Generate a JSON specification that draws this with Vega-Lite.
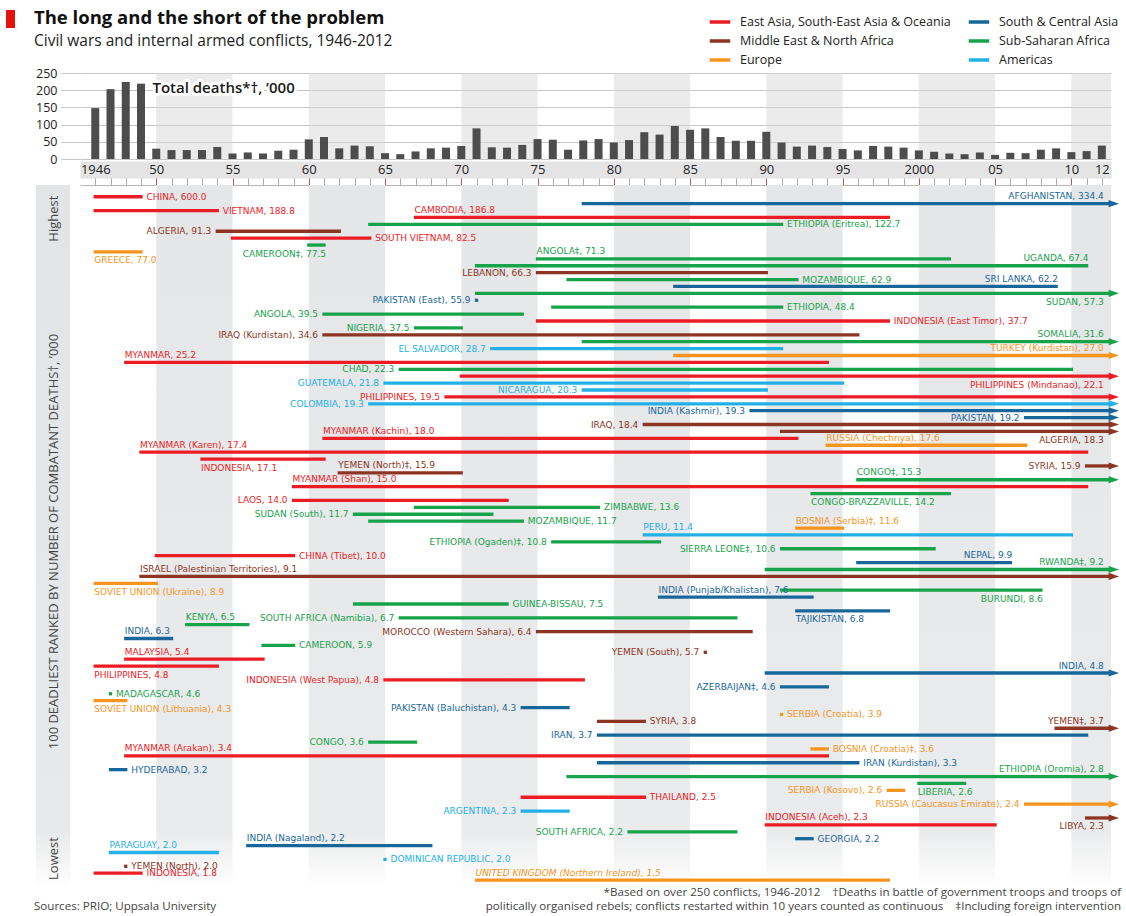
{
  "$schema": "https://vega.github.io/schema/vega-lite/v6.json",
  "background": "white",
  "padding": {"left": 5, "top": 9, "right": 6, "bottom": 4},
  "bounds": "flush",
  "spacing": 26,
  "title": {
    "text": "The long and the short of the problem",
    "subtitle": "Civil wars and internal armed conflicts, 1946-2012",
    "anchor": "start", "frame": "bounds", "dx": 28, "offset": -39,
    "font": "Open Sans", "fontSize": 18.5, "fontWeight": "bold", "color": "#111111",
    "subtitleFont": "Open Sans", "subtitleFontSize": 15.5, "subtitleColor": "#222222", "subtitlePadding": 6
  },
  "config": {"view": {"stroke": null}, "font": "Open Sans", "axis": {"labelOverlap": false}},
  "datasets": {
    "bands": [
      {"b0": 1950, "b1": 1955}, {"b0": 1960, "b1": 1965}, {"b0": 1970, "b1": 1975},
      {"b0": 1980, "b1": 1985}, {"b0": 1990, "b1": 1995}, {"b0": 2000, "b1": 2005},
      {"b0": 2010, "b1": 2012.6}
    ],
    "bars": [
      {"year": 1946, "deaths": 148}, {"year": 1947, "deaths": 203}, {"year": 1948, "deaths": 224}, {"year": 1949, "deaths": 219},
      {"year": 1950, "deaths": 30}, {"year": 1951, "deaths": 26}, {"year": 1952, "deaths": 26}, {"year": 1953, "deaths": 26},
      {"year": 1954, "deaths": 35}, {"year": 1955, "deaths": 16}, {"year": 1956, "deaths": 19}, {"year": 1957, "deaths": 16},
      {"year": 1958, "deaths": 24}, {"year": 1959, "deaths": 27}, {"year": 1960, "deaths": 57}, {"year": 1961, "deaths": 64},
      {"year": 1962, "deaths": 31}, {"year": 1963, "deaths": 39}, {"year": 1964, "deaths": 37}, {"year": 1965, "deaths": 17},
      {"year": 1966, "deaths": 14}, {"year": 1967, "deaths": 22}, {"year": 1968, "deaths": 31}, {"year": 1969, "deaths": 33},
      {"year": 1970, "deaths": 38}, {"year": 1971, "deaths": 89}, {"year": 1972, "deaths": 34}, {"year": 1973, "deaths": 33},
      {"year": 1974, "deaths": 41}, {"year": 1975, "deaths": 58}, {"year": 1976, "deaths": 56}, {"year": 1977, "deaths": 27},
      {"year": 1978, "deaths": 54}, {"year": 1979, "deaths": 58}, {"year": 1980, "deaths": 48}, {"year": 1981, "deaths": 55},
      {"year": 1982, "deaths": 78}, {"year": 1983, "deaths": 71}, {"year": 1984, "deaths": 96}, {"year": 1985, "deaths": 85},
      {"year": 1986, "deaths": 89}, {"year": 1987, "deaths": 64}, {"year": 1988, "deaths": 53}, {"year": 1989, "deaths": 53},
      {"year": 1990, "deaths": 79}, {"year": 1991, "deaths": 48}, {"year": 1992, "deaths": 36}, {"year": 1993, "deaths": 39},
      {"year": 1994, "deaths": 35}, {"year": 1995, "deaths": 29}, {"year": 1996, "deaths": 25}, {"year": 1997, "deaths": 38},
      {"year": 1998, "deaths": 36}, {"year": 1999, "deaths": 33}, {"year": 2000, "deaths": 25}, {"year": 2001, "deaths": 21},
      {"year": 2002, "deaths": 16}, {"year": 2003, "deaths": 14}, {"year": 2004, "deaths": 19}, {"year": 2005, "deaths": 12},
      {"year": 2006, "deaths": 18}, {"year": 2007, "deaths": 17}, {"year": 2008, "deaths": 27}, {"year": 2009, "deaths": 31},
      {"year": 2010, "deaths": 20}, {"year": 2011, "deaths": 23}, {"year": 2012, "deaths": 39}
    ],
    "conflicts": [
      {"rank": 1, "label": "CHINA, 600.0", "deaths": 600.0, "start": 1946, "end": 1949, "region": "East Asia, South-East Asia & Oceania", "ongoing": 0, "pos": "R"},
      {"rank": 2, "label": "AFGHANISTAN, 334.4", "deaths": 334.4, "start": 1978, "end": 2012, "region": "South & Central Asia", "ongoing": 1, "pos": "AE"},
      {"rank": 3, "label": "VIETNAM, 188.8", "deaths": 188.8, "start": 1946, "end": 1954, "region": "East Asia, South-East Asia & Oceania", "ongoing": 0, "pos": "R"},
      {"rank": 4, "label": "CAMBODIA, 186.8", "deaths": 186.8, "start": 1967, "end": 1998, "region": "East Asia, South-East Asia & Oceania", "ongoing": 0, "pos": "AS"},
      {"rank": 5, "label": "ETHIOPIA (Eritrea), 122.7", "deaths": 122.7, "start": 1964, "end": 1991, "region": "Sub-Saharan Africa", "ongoing": 0, "pos": "R"},
      {"rank": 6, "label": "ALGERIA, 91.3", "deaths": 91.3, "start": 1954, "end": 1962, "region": "Middle East & North Africa", "ongoing": 0, "pos": "L"},
      {"rank": 7, "label": "SOUTH VIETNAM, 82.5", "deaths": 82.5, "start": 1955, "end": 1964, "region": "East Asia, South-East Asia & Oceania", "ongoing": 0, "pos": "R"},
      {"rank": 8, "label": "CAMEROON‡, 77.5", "deaths": 77.5, "start": 1960, "end": 1961, "region": "Sub-Saharan Africa", "ongoing": 0, "pos": "BE"},
      {"rank": 9, "label": "GREECE, 77.0", "deaths": 77.0, "start": 1946, "end": 1949, "region": "Europe", "ongoing": 0, "pos": "BS"},
      {"rank": 10, "label": "ANGOLA‡, 71.3", "deaths": 71.3, "start": 1975, "end": 2002, "region": "Sub-Saharan Africa", "ongoing": 0, "pos": "AS"},
      {"rank": 11, "label": "UGANDA, 67.4", "deaths": 67.4, "start": 1971, "end": 2011, "region": "Sub-Saharan Africa", "ongoing": 0, "pos": "AE"},
      {"rank": 12, "label": "LEBANON, 66.3", "deaths": 66.3, "start": 1975, "end": 1990, "region": "Middle East & North Africa", "ongoing": 0, "pos": "L"},
      {"rank": 13, "label": "MOZAMBIQUE, 62.9", "deaths": 62.9, "start": 1977, "end": 1992, "region": "Sub-Saharan Africa", "ongoing": 0, "pos": "R"},
      {"rank": 14, "label": "SRI LANKA, 62.2", "deaths": 62.2, "start": 1984, "end": 2009, "region": "South & Central Asia", "ongoing": 0, "pos": "AE"},
      {"rank": 15, "label": "SUDAN, 57.3", "deaths": 57.3, "start": 1971, "end": 2012, "region": "Sub-Saharan Africa", "ongoing": 1, "pos": "BE"},
      {"rank": 16, "label": "PAKISTAN (East), 55.9", "deaths": 55.9, "start": 1971, "end": 1971, "region": "South & Central Asia", "ongoing": 0, "pos": "L"},
      {"rank": 17, "label": "ETHIOPIA, 48.4", "deaths": 48.4, "start": 1976, "end": 1991, "region": "Sub-Saharan Africa", "ongoing": 0, "pos": "R"},
      {"rank": 18, "label": "ANGOLA, 39.5", "deaths": 39.5, "start": 1961, "end": 1974, "region": "Sub-Saharan Africa", "ongoing": 0, "pos": "L"},
      {"rank": 19, "label": "INDONESIA (East Timor), 37.7", "deaths": 37.7, "start": 1975, "end": 1998, "region": "East Asia, South-East Asia & Oceania", "ongoing": 0, "pos": "R"},
      {"rank": 20, "label": "NIGERIA, 37.5", "deaths": 37.5, "start": 1967, "end": 1970, "region": "Sub-Saharan Africa", "ongoing": 0, "pos": "L"},
      {"rank": 21, "label": "IRAQ (Kurdistan), 34.6", "deaths": 34.6, "start": 1961, "end": 1996, "region": "Middle East & North Africa", "ongoing": 0, "pos": "L"},
      {"rank": 22, "label": "SOMALIA, 31.6", "deaths": 31.6, "start": 1978, "end": 2012, "region": "Sub-Saharan Africa", "ongoing": 1, "pos": "AE"},
      {"rank": 23, "label": "EL SALVADOR, 28.7", "deaths": 28.7, "start": 1972, "end": 1991, "region": "Americas", "ongoing": 0, "pos": "L"},
      {"rank": 24, "label": "TURKEY (Kurdistan), 27.0", "deaths": 27.0, "start": 1984, "end": 2012, "region": "Europe", "ongoing": 1, "pos": "AE"},
      {"rank": 25, "label": "MYANMAR, 25.2", "deaths": 25.2, "start": 1948, "end": 1994, "region": "East Asia, South-East Asia & Oceania", "ongoing": 0, "pos": "AS"},
      {"rank": 26, "label": "CHAD, 22.3", "deaths": 22.3, "start": 1966, "end": 2010, "region": "Sub-Saharan Africa", "ongoing": 0, "pos": "L"},
      {"rank": 27, "label": "PHILIPPINES (Mindanao), 22.1", "deaths": 22.1, "start": 1970, "end": 2012, "region": "East Asia, South-East Asia & Oceania", "ongoing": 1, "pos": "BE"},
      {"rank": 28, "label": "GUATEMALA, 21.8", "deaths": 21.8, "start": 1965, "end": 1995, "region": "Americas", "ongoing": 0, "pos": "L"},
      {"rank": 29, "label": "NICARAGUA, 20.3", "deaths": 20.3, "start": 1978, "end": 1990, "region": "Americas", "ongoing": 0, "pos": "L"},
      {"rank": 30, "label": "PHILIPPINES, 19.5", "deaths": 19.5, "start": 1969, "end": 2012, "region": "East Asia, South-East Asia & Oceania", "ongoing": 1, "pos": "L"},
      {"rank": 31, "label": "COLOMBIA, 19.3", "deaths": 19.3, "start": 1964, "end": 2012, "region": "Americas", "ongoing": 1, "pos": "L"},
      {"rank": 32, "label": "INDIA (Kashmir), 19.3", "deaths": 19.3, "start": 1989, "end": 2012, "region": "South & Central Asia", "ongoing": 1, "pos": "L"},
      {"rank": 33, "label": "PAKISTAN, 19.2", "deaths": 19.2, "start": 2007, "end": 2012, "region": "South & Central Asia", "ongoing": 1, "pos": "L"},
      {"rank": 34, "label": "IRAQ, 18.4", "deaths": 18.4, "start": 1982, "end": 2012, "region": "Middle East & North Africa", "ongoing": 1, "pos": "L"},
      {"rank": 35, "label": "ALGERIA, 18.3", "deaths": 18.3, "start": 1991, "end": 2012, "region": "Middle East & North Africa", "ongoing": 1, "pos": "BE"},
      {"rank": 36, "label": "MYANMAR (Kachin), 18.0", "deaths": 18.0, "start": 1961, "end": 1992, "region": "East Asia, South-East Asia & Oceania", "ongoing": 0, "pos": "AS"},
      {"rank": 37, "label": "RUSSIA (Chechnya), 17.6", "deaths": 17.6, "start": 1994, "end": 2007, "region": "Europe", "ongoing": 0, "pos": "AS"},
      {"rank": 38, "label": "MYANMAR (Karen), 17.4", "deaths": 17.4, "start": 1949, "end": 2011, "region": "East Asia, South-East Asia & Oceania", "ongoing": 0, "pos": "AS"},
      {"rank": 39, "label": "INDONESIA, 17.1", "deaths": 17.1, "start": 1953, "end": 1961, "region": "East Asia, South-East Asia & Oceania", "ongoing": 0, "pos": "BS"},
      {"rank": 40, "label": "SYRIA, 15.9", "deaths": 15.9, "start": 2011, "end": 2012, "region": "Middle East & North Africa", "ongoing": 1, "pos": "L"},
      {"rank": 41, "label": "YEMEN (North)‡, 15.9", "deaths": 15.9, "start": 1962, "end": 1970, "region": "Middle East & North Africa", "ongoing": 0, "pos": "AS"},
      {"rank": 42, "label": "CONGO‡, 15.3", "deaths": 15.3, "start": 1996, "end": 2012, "region": "Sub-Saharan Africa", "ongoing": 1, "pos": "AS"},
      {"rank": 43, "label": "MYANMAR (Shan), 15.0", "deaths": 15.0, "start": 1959, "end": 2011, "region": "East Asia, South-East Asia & Oceania", "ongoing": 0, "pos": "AS"},
      {"rank": 44, "label": "CONGO-BRAZZAVILLE, 14.2", "deaths": 14.2, "start": 1993, "end": 2002, "region": "Sub-Saharan Africa", "ongoing": 0, "pos": "BS"},
      {"rank": 45, "label": "LAOS, 14.0", "deaths": 14.0, "start": 1959, "end": 1973, "region": "East Asia, South-East Asia & Oceania", "ongoing": 0, "pos": "L"},
      {"rank": 46, "label": "ZIMBABWE, 13.6", "deaths": 13.6, "start": 1967, "end": 1979, "region": "Sub-Saharan Africa", "ongoing": 0, "pos": "R"},
      {"rank": 47, "label": "SUDAN (South), 11.7", "deaths": 11.7, "start": 1963, "end": 1972, "region": "Sub-Saharan Africa", "ongoing": 0, "pos": "L"},
      {"rank": 48, "label": "MOZAMBIQUE, 11.7", "deaths": 11.7, "start": 1964, "end": 1974, "region": "Sub-Saharan Africa", "ongoing": 0, "pos": "R"},
      {"rank": 49, "label": "BOSNIA (Serbia)‡, 11.6", "deaths": 11.6, "start": 1992, "end": 1995, "region": "Europe", "ongoing": 0, "pos": "AS"},
      {"rank": 50, "label": "PERU, 11.4", "deaths": 11.4, "start": 1982, "end": 2010, "region": "Americas", "ongoing": 0, "pos": "AS"},
      {"rank": 51, "label": "ETHIOPIA (Ogaden)‡, 10.8", "deaths": 10.8, "start": 1976, "end": 1983, "region": "Sub-Saharan Africa", "ongoing": 0, "pos": "L"},
      {"rank": 52, "label": "SIERRA LEONE‡, 10.6", "deaths": 10.6, "start": 1991, "end": 2001, "region": "Sub-Saharan Africa", "ongoing": 0, "pos": "L"},
      {"rank": 53, "label": "CHINA (Tibet), 10.0", "deaths": 10.0, "start": 1950, "end": 1959, "region": "East Asia, South-East Asia & Oceania", "ongoing": 0, "pos": "R"},
      {"rank": 54, "label": "NEPAL, 9.9", "deaths": 9.9, "start": 1996, "end": 2006, "region": "South & Central Asia", "ongoing": 0, "pos": "AE"},
      {"rank": 55, "label": "RWANDA‡, 9.2", "deaths": 9.2, "start": 1990, "end": 2012, "region": "Sub-Saharan Africa", "ongoing": 1, "pos": "AE"},
      {"rank": 56, "label": "ISRAEL (Palestinian Territories), 9.1", "deaths": 9.1, "start": 1949, "end": 2012, "region": "Middle East & North Africa", "ongoing": 1, "pos": "AS"},
      {"rank": 57, "label": "SOVIET UNION (Ukraine), 8.9", "deaths": 8.9, "start": 1946, "end": 1950, "region": "Europe", "ongoing": 0, "pos": "BS"},
      {"rank": 58, "label": "BURUNDI, 8.6", "deaths": 8.6, "start": 1991, "end": 2008, "region": "Sub-Saharan Africa", "ongoing": 0, "pos": "BE"},
      {"rank": 59, "label": "INDIA (Punjab/Khalistan), 7.6", "deaths": 7.6, "start": 1983, "end": 1993, "region": "South & Central Asia", "ongoing": 0, "pos": "AS"},
      {"rank": 60, "label": "GUINEA-BISSAU, 7.5", "deaths": 7.5, "start": 1963, "end": 1973, "region": "Sub-Saharan Africa", "ongoing": 0, "pos": "R"},
      {"rank": 61, "label": "TAJIKISTAN, 6.8", "deaths": 6.8, "start": 1992, "end": 1998, "region": "South & Central Asia", "ongoing": 0, "pos": "BS"},
      {"rank": 62, "label": "SOUTH AFRICA (Namibia), 6.7", "deaths": 6.7, "start": 1966, "end": 1988, "region": "Sub-Saharan Africa", "ongoing": 0, "pos": "L"},
      {"rank": 63, "label": "KENYA, 6.5", "deaths": 6.5, "start": 1952, "end": 1956, "region": "Sub-Saharan Africa", "ongoing": 0, "pos": "AS"},
      {"rank": 64, "label": "MOROCCO (Western Sahara), 6.4", "deaths": 6.4, "start": 1975, "end": 1989, "region": "Middle East & North Africa", "ongoing": 0, "pos": "L"},
      {"rank": 65, "label": "INDIA, 6.3", "deaths": 6.3, "start": 1948, "end": 1951, "region": "South & Central Asia", "ongoing": 0, "pos": "AS"},
      {"rank": 66, "label": "CAMEROON, 5.9", "deaths": 5.9, "start": 1957, "end": 1959, "region": "Sub-Saharan Africa", "ongoing": 0, "pos": "R"},
      {"rank": 67, "label": "YEMEN (South), 5.7", "deaths": 5.7, "start": 1986, "end": 1986, "region": "Middle East & North Africa", "ongoing": 0, "pos": "L"},
      {"rank": 68, "label": "MALAYSIA, 5.4", "deaths": 5.4, "start": 1948, "end": 1957, "region": "East Asia, South-East Asia & Oceania", "ongoing": 0, "pos": "AS"},
      {"rank": 69, "label": "PHILIPPINES, 4.8", "deaths": 4.8, "start": 1946, "end": 1954, "region": "East Asia, South-East Asia & Oceania", "ongoing": 0, "pos": "BS"},
      {"rank": 70, "label": "INDIA, 4.8", "deaths": 4.8, "start": 1990, "end": 2012, "region": "South & Central Asia", "ongoing": 1, "pos": "AE"},
      {"rank": 71, "label": "INDONESIA (West Papua), 4.8", "deaths": 4.8, "start": 1965, "end": 1978, "region": "East Asia, South-East Asia & Oceania", "ongoing": 0, "pos": "L"},
      {"rank": 72, "label": "AZERBAIJAN‡, 4.6", "deaths": 4.6, "start": 1991, "end": 1994, "region": "South & Central Asia", "ongoing": 0, "pos": "L"},
      {"rank": 73, "label": "MADAGASCAR, 4.6", "deaths": 4.6, "start": 1947, "end": 1947, "region": "Sub-Saharan Africa", "ongoing": 0, "pos": "R"},
      {"rank": 74, "label": "SOVIET UNION (Lithuania), 4.3", "deaths": 4.3, "start": 1946, "end": 1948, "region": "Europe", "ongoing": 0, "pos": "BS"},
      {"rank": 75, "label": "PAKISTAN (Baluchistan), 4.3", "deaths": 4.3, "start": 1974, "end": 1977, "region": "South & Central Asia", "ongoing": 0, "pos": "L"},
      {"rank": 76, "label": "SERBIA (Croatia), 3.9", "deaths": 3.9, "start": 1991, "end": 1991, "region": "Europe", "ongoing": 0, "pos": "R"},
      {"rank": 77, "label": "SYRIA, 3.8", "deaths": 3.8, "start": 1979, "end": 1982, "region": "Middle East & North Africa", "ongoing": 0, "pos": "R"},
      {"rank": 78, "label": "YEMEN‡, 3.7", "deaths": 3.7, "start": 2009, "end": 2012, "region": "Middle East & North Africa", "ongoing": 1, "pos": "AE"},
      {"rank": 79, "label": "IRAN, 3.7", "deaths": 3.7, "start": 1979, "end": 2011, "region": "South & Central Asia", "ongoing": 0, "pos": "L"},
      {"rank": 80, "label": "CONGO, 3.6", "deaths": 3.6, "start": 1964, "end": 1967, "region": "Sub-Saharan Africa", "ongoing": 0, "pos": "L"},
      {"rank": 81, "label": "BOSNIA (Croatia)‡, 3.6", "deaths": 3.6, "start": 1993, "end": 1994, "region": "Europe", "ongoing": 0, "pos": "R"},
      {"rank": 82, "label": "MYANMAR (Arakan), 3.4", "deaths": 3.4, "start": 1948, "end": 1994, "region": "East Asia, South-East Asia & Oceania", "ongoing": 0, "pos": "AS"},
      {"rank": 83, "label": "IRAN (Kurdistan), 3.3", "deaths": 3.3, "start": 1979, "end": 1996, "region": "South & Central Asia", "ongoing": 0, "pos": "R"},
      {"rank": 84, "label": "HYDERABAD, 3.2", "deaths": 3.2, "start": 1947, "end": 1948, "region": "South & Central Asia", "ongoing": 0, "pos": "R"},
      {"rank": 85, "label": "ETHIOPIA (Oromia), 2.8", "deaths": 2.8, "start": 1977, "end": 2012, "region": "Sub-Saharan Africa", "ongoing": 1, "pos": "AE"},
      {"rank": 86, "label": "LIBERIA, 2.6", "deaths": 2.6, "start": 2000, "end": 2003, "region": "Sub-Saharan Africa", "ongoing": 0, "pos": "BS"},
      {"rank": 87, "label": "SERBIA (Kosovo), 2.6", "deaths": 2.6, "start": 1998, "end": 1999, "region": "Europe", "ongoing": 0, "pos": "L"},
      {"rank": 88, "label": "THAILAND, 2.5", "deaths": 2.5, "start": 1974, "end": 1982, "region": "East Asia, South-East Asia & Oceania", "ongoing": 0, "pos": "R"},
      {"rank": 89, "label": "RUSSIA (Caucasus Emirate), 2.4", "deaths": 2.4, "start": 2007, "end": 2012, "region": "Europe", "ongoing": 1, "pos": "L"},
      {"rank": 90, "label": "ARGENTINA, 2.3", "deaths": 2.3, "start": 1974, "end": 1977, "region": "Americas", "ongoing": 0, "pos": "L"},
      {"rank": 91, "label": "LIBYA, 2.3", "deaths": 2.3, "start": 2011, "end": 2012, "region": "Middle East & North Africa", "ongoing": 1, "pos": "BE"},
      {"rank": 92, "label": "INDONESIA (Aceh), 2.3", "deaths": 2.3, "start": 1990, "end": 2005, "region": "East Asia, South-East Asia & Oceania", "ongoing": 0, "pos": "AS"},
      {"rank": 93, "label": "SOUTH AFRICA, 2.2", "deaths": 2.2, "start": 1981, "end": 1988, "region": "Sub-Saharan Africa", "ongoing": 0, "pos": "L"},
      {"rank": 94, "label": "GEORGIA, 2.2", "deaths": 2.2, "start": 1992, "end": 1993, "region": "South & Central Asia", "ongoing": 0, "pos": "R"},
      {"rank": 95, "label": "INDIA (Nagaland), 2.2", "deaths": 2.2, "start": 1956, "end": 1968, "region": "South & Central Asia", "ongoing": 0, "pos": "AS"},
      {"rank": 96, "label": "PARAGUAY, 2.0", "deaths": 2.0, "start": 1947, "end": 1954, "region": "Americas", "ongoing": 0, "pos": "AS"},
      {"rank": 97, "label": "DOMINICAN REPUBLIC, 2.0", "deaths": 2.0, "start": 1965, "end": 1965, "region": "Americas", "ongoing": 0, "pos": "R"},
      {"rank": 98, "label": "YEMEN (North), 2.0", "deaths": 2.0, "start": 1948, "end": 1948, "region": "Middle East & North Africa", "ongoing": 0, "pos": "R"},
      {"rank": 99, "label": "INDONESIA, 1.8", "deaths": 1.8, "start": 1946, "end": 1949, "region": "East Asia, South-East Asia & Oceania", "ongoing": 0, "pos": "R"},
      {"rank": 100, "label": "UNITED KINGDOM (Northern Ireland), 1.5", "deaths": 1.5, "start": 1971, "end": 1998, "region": "Europe", "ongoing": 0, "pos": "AI"}
    ]
  },
  "vconcat": [
    {
      "width": 1031,
      "height": 86,
      "layer": [
        {
          "data": {"name": "bands"},
          "mark": {"type": "rect", "color": "#d8d8d8", "opacity": 0.5},
          "encoding": {
            "x": {
              "field": "b0", "type": "quantitative",
              "scale": {"domain": [1945, 2012.6], "nice": false, "zero": false, "padding": 0},
              "axis": {"orient": "bottom", "offset": 10.5, "domain": true, "domainWidth": 17, "domainColor": "#e4e4e4", "labels": false, "ticks": true, "tickSize": 15, "values": [1946,1947,1948,1949,1950,1951,1952,1953,1954,1955,1956,1957,1958,1959,1960,1961,1962,1963,1964,1965,1966,1967,1968,1969,1970,1971,1972,1973,1974,1975,1976,1977,1978,1979,1980,1981,1982,1983,1984,1985,1986,1987,1988,1989,1990,1991,1992,1993,1994,1995,1996,1997,1998,1999,2000,2001,2002,2003,2004,2005,2006,2007,2008,2009,2010,2011,2012], "tickColor": {"condition": {"test": "datum.value % 5 == 0", "value": "#c8524a"}, "value": "#b9a7a7"}, "grid": false, "title": null}
            },
            "x2": {"field": "b1"}
          }
        },
        {
          "data": {"name": "bars"},
          "mark": {"type": "bar", "width": 8, "color": "#4d4d4d"},
          "encoding": {
            "x": {
              "field": "year", "type": "quantitative",
              "axis": {"orient": "bottom", "offset": 10.5, "domain": true, "domainWidth": 17, "domainColor": "#e4e4e4", "labels": false, "ticks": true, "tickSize": 15, "values": [1946,1947,1948,1949,1950,1951,1952,1953,1954,1955,1956,1957,1958,1959,1960,1961,1962,1963,1964,1965,1966,1967,1968,1969,1970,1971,1972,1973,1974,1975,1976,1977,1978,1979,1980,1981,1982,1983,1984,1985,1986,1987,1988,1989,1990,1991,1992,1993,1994,1995,1996,1997,1998,1999,2000,2001,2002,2003,2004,2005,2006,2007,2008,2009,2010,2011,2012], "tickColor": {"condition": {"test": "datum.value % 5 == 0", "value": "#c8524a"}, "value": "#b9a7a7"}, "grid": false, "title": null}
            },
            "y": {
              "field": "deaths", "type": "quantitative",
              "scale": {"domain": [0, 250], "nice": false},
              "axis": {"values": [0, 50, 100, 150, 200, 250], "grid": true, "gridColor": "#c6c6c6", "domain": false, "ticks": true, "tickSize": 19, "tickColor": "#c6c6c6", "labelPadding": 4, "labelFont": "Open Sans", "labelFontSize": 12.5, "labelColor": "#222222", "labelOverlap": false, "labelFlush": false, "title": null}
            }
          }
        },
        {
          "data": {"values": [{}]},
          "mark": {"type": "text", "text": "Total deaths*†, ’000", "align": "left", "baseline": "middle", "font": "Open Sans", "fontSize": 15, "fontWeight": 600, "fill": "white", "stroke": "white", "strokeWidth": 6, "strokeJoin": "round"},
          "encoding": {
            "x": {
              "datum": 1949.75, "type": "quantitative",
              "axis": {"orient": "bottom", "offset": 10.5, "domain": true, "domainWidth": 17, "domainColor": "#e4e4e4", "labels": false, "ticks": true, "tickSize": 15, "values": [1946,1947,1948,1949,1950,1951,1952,1953,1954,1955,1956,1957,1958,1959,1960,1961,1962,1963,1964,1965,1966,1967,1968,1969,1970,1971,1972,1973,1974,1975,1976,1977,1978,1979,1980,1981,1982,1983,1984,1985,1986,1987,1988,1989,1990,1991,1992,1993,1994,1995,1996,1997,1998,1999,2000,2001,2002,2003,2004,2005,2006,2007,2008,2009,2010,2011,2012], "tickColor": {"condition": {"test": "datum.value % 5 == 0", "value": "#c8524a"}, "value": "#b9a7a7"}, "grid": false, "title": null}
            },
            "y": {
              "datum": 205, "type": "quantitative",
              "axis": {"values": [0, 50, 100, 150, 200, 250], "grid": true, "gridColor": "#c6c6c6", "domain": false, "ticks": true, "tickSize": 19, "tickColor": "#c6c6c6", "labelPadding": 4, "labelFont": "Open Sans", "labelFontSize": 12.5, "labelColor": "#222222", "labelOverlap": false, "labelFlush": false, "title": null}
            }
          }
        },
        {
          "data": {"values": [{}]},
          "mark": {"type": "text", "text": "Total deaths*†, ’000", "align": "left", "baseline": "middle", "font": "Open Sans", "fontSize": 15, "fontWeight": 600, "fill": "#1a1a1a"},
          "encoding": {
            "x": {
              "datum": 1949.75, "type": "quantitative",
              "axis": {"orient": "bottom", "offset": 10.5, "domain": true, "domainWidth": 17, "domainColor": "#e4e4e4", "labels": false, "ticks": true, "tickSize": 15, "values": [1946,1947,1948,1949,1950,1951,1952,1953,1954,1955,1956,1957,1958,1959,1960,1961,1962,1963,1964,1965,1966,1967,1968,1969,1970,1971,1972,1973,1974,1975,1976,1977,1978,1979,1980,1981,1982,1983,1984,1985,1986,1987,1988,1989,1990,1991,1992,1993,1994,1995,1996,1997,1998,1999,2000,2001,2002,2003,2004,2005,2006,2007,2008,2009,2010,2011,2012], "tickColor": {"condition": {"test": "datum.value % 5 == 0", "value": "#c8524a"}, "value": "#b9a7a7"}, "grid": false, "title": null}
            },
            "y": {
              "datum": 205, "type": "quantitative",
              "axis": {"values": [0, 50, 100, 150, 200, 250], "grid": true, "gridColor": "#c6c6c6", "domain": false, "ticks": true, "tickSize": 19, "tickColor": "#c6c6c6", "labelPadding": 4, "labelFont": "Open Sans", "labelFontSize": 12.5, "labelColor": "#222222", "labelOverlap": false, "labelFlush": false, "title": null}
            }
          }
        },
        {
          "data": {"values": [{}]},
          "mark": {"type": "rect", "color": "#e3120b"},
          "encoding": {
            "x": {
              "datum": 1940.148, "type": "quantitative",
              "axis": {"orient": "bottom", "offset": 10.5, "domain": true, "domainWidth": 17, "domainColor": "#e4e4e4", "labels": false, "ticks": true, "tickSize": 15, "values": [1946,1947,1948,1949,1950,1951,1952,1953,1954,1955,1956,1957,1958,1959,1960,1961,1962,1963,1964,1965,1966,1967,1968,1969,1970,1971,1972,1973,1974,1975,1976,1977,1978,1979,1980,1981,1982,1983,1984,1985,1986,1987,1988,1989,1990,1991,1992,1993,1994,1995,1996,1997,1998,1999,2000,2001,2002,2003,2004,2005,2006,2007,2008,2009,2010,2011,2012], "tickColor": {"condition": {"test": "datum.value % 5 == 0", "value": "#c8524a"}, "value": "#b9a7a7"}, "grid": false, "title": null}
            },
            "x2": {"datum": 1940.738},
            "y": {
              "datum": 433.1, "type": "quantitative",
              "axis": {"values": [0, 50, 100, 150, 200, 250], "grid": true, "gridColor": "#c6c6c6", "domain": false, "ticks": true, "tickSize": 19, "tickColor": "#c6c6c6", "labelPadding": 4, "labelFont": "Open Sans", "labelFontSize": 12.5, "labelColor": "#222222", "labelOverlap": false, "labelFlush": false, "title": null}
            },
            "y2": {"datum": 380.8}
          }
        }
      ]
    },
    {
      "width": 1031,
      "height": 702,
      "layer": [
        {
          "data": {"name": "bands"},
          "mark": {
            "type": "rect",
            "color": {"gradient": "linear", "x1": 0, "y1": 0, "x2": 0, "y2": 1,
              "stops": [{"offset": 0, "color": "#e5e6e8"}, {"offset": 0.92, "color": "#eaebec"}, {"offset": 1, "color": "#ffffff"}]}
          },
          "encoding": {
            "x": {
              "field": "b0", "type": "quantitative",
              "scale": {"domain": [1945, 2012.6], "nice": false, "zero": false, "padding": 0},
              "axis": {"orient": "top", "values": [1946,1950,1955,1960,1965,1970,1975,1980,1985,1990,1995,2000,2005,2010,2012], "labelExpr": "datum.value == 1946 || datum.value == 2000 ? '' + datum.value : substring('' + datum.value, 2, 4)", "labels": true, "ticks": false, "tickSize": 0, "labelPadding": 15.5, "labelBaseline": "middle", "labelFont": "Open Sans", "labelFontSize": 13, "labelColor": "#222222", "labelOverlap": false, "labelFlush": false, "domain": true, "domainColor": "#bfb3b3", "grid": false, "title": null}
            },
            "x2": {"field": "b1"}
          }
        },
        {
          "data": {"values": [{}]},
          "mark": {
            "type": "rect",
            "color": {"gradient": "linear", "x1": 0, "y1": 0, "x2": 0, "y2": 1,
              "stops": [{"offset": 0, "color": "#e3e4e6"}, {"offset": 0.92, "color": "#e8e9ea"}, {"offset": 1, "color": "#ffffff"}]}
          },
          "encoding": {
            "x": {
              "datum": 1942.115, "type": "quantitative",
              "axis": {"orient": "top", "values": [1946,1950,1955,1960,1965,1970,1975,1980,1985,1990,1995,2000,2005,2010,2012], "labelExpr": "datum.value == 1946 || datum.value == 2000 ? '' + datum.value : substring('' + datum.value, 2, 4)", "labels": true, "ticks": false, "tickSize": 0, "labelPadding": 15.5, "labelBaseline": "middle", "labelFont": "Open Sans", "labelFontSize": 13, "labelColor": "#222222", "labelOverlap": false, "labelFlush": false, "domain": true, "domainColor": "#bfb3b3", "grid": false, "title": null}
            },
            "x2": {"datum": 1944.344}
          }
        },
        {
          "data": {"name": "conflicts"},
          "transform": [{"filter": "datum.ongoing == 0"}],
          "mark": {"type": "rule", "strokeWidth": 3.3, "strokeCap": "square"},
          "encoding": {
            "x": {
              "field": "start", "type": "quantitative",
              "axis": {"orient": "top", "values": [1946,1950,1955,1960,1965,1970,1975,1980,1985,1990,1995,2000,2005,2010,2012], "labelExpr": "datum.value == 1946 || datum.value == 2000 ? '' + datum.value : substring('' + datum.value, 2, 4)", "labels": true, "ticks": false, "tickSize": 0, "labelPadding": 15.5, "labelBaseline": "middle", "labelFont": "Open Sans", "labelFontSize": 13, "labelColor": "#222222", "labelOverlap": false, "labelFlush": false, "domain": true, "domainColor": "#bfb3b3", "grid": false, "title": null}
            },
            "x2": {"field": "end"},
            "y": {
              "field": "rank", "type": "quantitative",
              "scale": {"domain": [-0.7, 101], "reverse": true, "nice": false, "zero": false},
              "axis": {
                "orient": "left", "offset": 0, "domain": false, "grid": false, "zindex": 1,
                "values": [4.1, 96.8],
                "ticks": false, "tickSize": 0,
                "labelExpr": "datum.value < 50 ? 'Highest' : 'Lowest'",
                "labelAngle": 270, "labelAlign": "center", "labelBaseline": "middle", "labelPadding": 27,
                "labelFont": "Open Sans", "labelFontSize": 13, "labelColor": "#444444",
                "labelOverlap": false, "labelFlush": false,
                "title": "100 DEADLIEST RANKED BY NUMBER OF COMBATANT DEATHS†, ’000",
                "titleAngle": 270, "titleX": -27, "titleY": 356, "titleAlign": "center", "titleBaseline": "middle",
                "titleFont": "Open Sans", "titleFontSize": 13, "titleFontWeight": "normal", "titleColor": "#444444"
              }
            },
            "color": {
              "field": "region", "type": "nominal",
              "scale": {
                "domain": ["East Asia, South-East Asia & Oceania", "South & Central Asia", "Middle East & North Africa", "Sub-Saharan Africa", "Europe", "Americas"],
                "range": ["#ec1c24", "#18679a", "#8b3522", "#17a34a", "#f7941d", "#22b0e6"]
              },
              "legend": {
                "orient": "none", "legendX": 628, "legendY": -63, "columns": 2, "direction": "horizontal",
                "title": null, "symbolType": "stroke", "symbolStrokeWidth": 3.5, "symbolSize": 420,
                "labelFont": "Open Sans", "labelFontSize": 12.5, "labelColor": "#222222",
                "rowPadding": 0, "columnPadding": 10, "labelOffset": 8, "padding": 0, "labelLimit": 400
              }
            }
          }
        },
        {
          "data": {"name": "conflicts"},
          "transform": [{"filter": "datum.ongoing == 1"}],
          "mark": {"type": "rule", "strokeWidth": 3.3, "strokeCap": "square", "x2Offset": 6},
          "encoding": {
            "x": {
              "field": "start", "type": "quantitative",
              "axis": {"orient": "top", "values": [1946,1950,1955,1960,1965,1970,1975,1980,1985,1990,1995,2000,2005,2010,2012], "labelExpr": "datum.value == 1946 || datum.value == 2000 ? '' + datum.value : substring('' + datum.value, 2, 4)", "labels": true, "ticks": false, "tickSize": 0, "labelPadding": 15.5, "labelBaseline": "middle", "labelFont": "Open Sans", "labelFontSize": 13, "labelColor": "#222222", "labelOverlap": false, "labelFlush": false, "domain": true, "domainColor": "#bfb3b3", "grid": false, "title": null}
            },
            "x2": {"field": "end"},
            "y": {"field": "rank", "type": "quantitative"},
            "color": {"field": "region", "type": "nominal", "legend": null}
          }
        },
        {
          "data": {"name": "conflicts"},
          "transform": [{"filter": "datum.ongoing == 1"}],
          "mark": {"type": "point", "shape": "M-1,-0.67L1,0L-1,0.67Z", "filled": true, "opacity": 1, "size": 110, "xOffset": 12},
          "encoding": {
            "x": {
              "field": "end", "type": "quantitative",
              "axis": {"orient": "top", "values": [1946,1950,1955,1960,1965,1970,1975,1980,1985,1990,1995,2000,2005,2010,2012], "labelExpr": "datum.value == 1946 || datum.value == 2000 ? '' + datum.value : substring('' + datum.value, 2, 4)", "labels": true, "ticks": false, "tickSize": 0, "labelPadding": 15.5, "labelBaseline": "middle", "labelFont": "Open Sans", "labelFontSize": 13, "labelColor": "#222222", "labelOverlap": false, "labelFlush": false, "domain": true, "domainColor": "#bfb3b3", "grid": false, "title": null}
            },
            "y": {"field": "rank", "type": "quantitative"},
            "color": {"field": "region", "type": "nominal", "legend": null}
          }
        },
        {
          "data": {"name": "conflicts"},
          "transform": [{"filter": "datum.pos == 'R'"}],
          "mark": {"type": "text", "font": "DejaVu Sans", "fontSize": 9, "align": "left", "baseline": "middle", "dx": 5.5},
          "encoding": {
            "x": {
              "field": "end", "type": "quantitative",
              "axis": {"orient": "top", "values": [1946,1950,1955,1960,1965,1970,1975,1980,1985,1990,1995,2000,2005,2010,2012], "labelExpr": "datum.value == 1946 || datum.value == 2000 ? '' + datum.value : substring('' + datum.value, 2, 4)", "labels": true, "ticks": false, "tickSize": 0, "labelPadding": 15.5, "labelBaseline": "middle", "labelFont": "Open Sans", "labelFontSize": 13, "labelColor": "#222222", "labelOverlap": false, "labelFlush": false, "domain": true, "domainColor": "#bfb3b3", "grid": false, "title": null}
            },
            "y": {"field": "rank", "type": "quantitative"},
            "text": {"field": "label", "type": "nominal"},
            "color": {"field": "region", "type": "nominal", "legend": null}
          }
        },
        {
          "data": {"name": "conflicts"},
          "transform": [{"filter": "datum.pos == 'L'"}],
          "mark": {"type": "text", "font": "DejaVu Sans", "fontSize": 9, "align": "right", "baseline": "middle", "dx": -6},
          "encoding": {
            "x": {
              "field": "start", "type": "quantitative",
              "axis": {"orient": "top", "values": [1946,1950,1955,1960,1965,1970,1975,1980,1985,1990,1995,2000,2005,2010,2012], "labelExpr": "datum.value == 1946 || datum.value == 2000 ? '' + datum.value : substring('' + datum.value, 2, 4)", "labels": true, "ticks": false, "tickSize": 0, "labelPadding": 15.5, "labelBaseline": "middle", "labelFont": "Open Sans", "labelFontSize": 13, "labelColor": "#222222", "labelOverlap": false, "labelFlush": false, "domain": true, "domainColor": "#bfb3b3", "grid": false, "title": null}
            },
            "y": {"field": "rank", "type": "quantitative"},
            "text": {"field": "label", "type": "nominal"},
            "color": {"field": "region", "type": "nominal", "legend": null}
          }
        },
        {
          "data": {"name": "conflicts"},
          "transform": [{"filter": "datum.pos == 'AS'"}],
          "mark": {"type": "text", "font": "DejaVu Sans", "fontSize": 9, "align": "left", "baseline": "middle", "dx": -1, "dy": -7.5},
          "encoding": {
            "x": {
              "field": "start", "type": "quantitative",
              "axis": {"orient": "top", "values": [1946,1950,1955,1960,1965,1970,1975,1980,1985,1990,1995,2000,2005,2010,2012], "labelExpr": "datum.value == 1946 || datum.value == 2000 ? '' + datum.value : substring('' + datum.value, 2, 4)", "labels": true, "ticks": false, "tickSize": 0, "labelPadding": 15.5, "labelBaseline": "middle", "labelFont": "Open Sans", "labelFontSize": 13, "labelColor": "#222222", "labelOverlap": false, "labelFlush": false, "domain": true, "domainColor": "#bfb3b3", "grid": false, "title": null}
            },
            "y": {"field": "rank", "type": "quantitative"},
            "text": {"field": "label", "type": "nominal"},
            "color": {"field": "region", "type": "nominal", "legend": null}
          }
        },
        {
          "data": {"name": "conflicts"},
          "transform": [{"filter": "datum.pos == 'AI'"}],
          "mark": {"type": "text", "font": "DejaVu Sans", "fontSize": 9, "fontStyle": "italic", "align": "left", "baseline": "middle", "dx": -1, "dy": -7.5},
          "encoding": {
            "x": {
              "field": "start", "type": "quantitative",
              "axis": {"orient": "top", "values": [1946,1950,1955,1960,1965,1970,1975,1980,1985,1990,1995,2000,2005,2010,2012], "labelExpr": "datum.value == 1946 || datum.value == 2000 ? '' + datum.value : substring('' + datum.value, 2, 4)", "labels": true, "ticks": false, "tickSize": 0, "labelPadding": 15.5, "labelBaseline": "middle", "labelFont": "Open Sans", "labelFontSize": 13, "labelColor": "#222222", "labelOverlap": false, "labelFlush": false, "domain": true, "domainColor": "#bfb3b3", "grid": false, "title": null}
            },
            "y": {"field": "rank", "type": "quantitative"},
            "text": {"field": "label", "type": "nominal"},
            "color": {"field": "region", "type": "nominal", "legend": null}
          }
        },
        {
          "data": {"name": "conflicts"},
          "transform": [{"filter": "datum.pos == 'AE'"}],
          "mark": {"type": "text", "font": "DejaVu Sans", "fontSize": 9, "align": "right", "baseline": "middle", "dx": 2, "dy": -7.5},
          "encoding": {
            "x": {
              "field": "end", "type": "quantitative",
              "axis": {"orient": "top", "values": [1946,1950,1955,1960,1965,1970,1975,1980,1985,1990,1995,2000,2005,2010,2012], "labelExpr": "datum.value == 1946 || datum.value == 2000 ? '' + datum.value : substring('' + datum.value, 2, 4)", "labels": true, "ticks": false, "tickSize": 0, "labelPadding": 15.5, "labelBaseline": "middle", "labelFont": "Open Sans", "labelFontSize": 13, "labelColor": "#222222", "labelOverlap": false, "labelFlush": false, "domain": true, "domainColor": "#bfb3b3", "grid": false, "title": null}
            },
            "y": {"field": "rank", "type": "quantitative"},
            "text": {"field": "label", "type": "nominal"},
            "color": {"field": "region", "type": "nominal", "legend": null}
          }
        },
        {
          "data": {"name": "conflicts"},
          "transform": [{"filter": "datum.pos == 'BS'"}],
          "mark": {"type": "text", "font": "DejaVu Sans", "fontSize": 9, "align": "left", "baseline": "middle", "dx": -1, "dy": 8.5},
          "encoding": {
            "x": {
              "field": "start", "type": "quantitative",
              "axis": {"orient": "top", "values": [1946,1950,1955,1960,1965,1970,1975,1980,1985,1990,1995,2000,2005,2010,2012], "labelExpr": "datum.value == 1946 || datum.value == 2000 ? '' + datum.value : substring('' + datum.value, 2, 4)", "labels": true, "ticks": false, "tickSize": 0, "labelPadding": 15.5, "labelBaseline": "middle", "labelFont": "Open Sans", "labelFontSize": 13, "labelColor": "#222222", "labelOverlap": false, "labelFlush": false, "domain": true, "domainColor": "#bfb3b3", "grid": false, "title": null}
            },
            "y": {"field": "rank", "type": "quantitative"},
            "text": {"field": "label", "type": "nominal"},
            "color": {"field": "region", "type": "nominal", "legend": null}
          }
        },
        {
          "data": {"name": "conflicts"},
          "transform": [{"filter": "datum.pos == 'BE'"}],
          "mark": {"type": "text", "font": "DejaVu Sans", "fontSize": 9, "align": "right", "baseline": "middle", "dx": 2, "dy": 8.5},
          "encoding": {
            "x": {
              "field": "end", "type": "quantitative",
              "axis": {"orient": "top", "values": [1946,1950,1955,1960,1965,1970,1975,1980,1985,1990,1995,2000,2005,2010,2012], "labelExpr": "datum.value == 1946 || datum.value == 2000 ? '' + datum.value : substring('' + datum.value, 2, 4)", "labels": true, "ticks": false, "tickSize": 0, "labelPadding": 15.5, "labelBaseline": "middle", "labelFont": "Open Sans", "labelFontSize": 13, "labelColor": "#222222", "labelOverlap": false, "labelFlush": false, "domain": true, "domainColor": "#bfb3b3", "grid": false, "title": null}
            },
            "y": {"field": "rank", "type": "quantitative"},
            "text": {"field": "label", "type": "nominal"},
            "color": {"field": "region", "type": "nominal", "legend": null}
          }
        },
        {
          "data": {"values": [{}]},
          "mark": {"type": "text", "text": "*Based on over 250 conflicts, 1946-2012\u00a0\u00a0\u00a0\u00a0†Deaths in battle of government troops and troops of", "align": "right", "baseline": "middle", "font": "Open Sans", "fontSize": 11.6, "fill": "#444444"},
          "encoding": {
            "x": {
              "datum": 2013.26, "type": "quantitative",
              "axis": {"orient": "top", "values": [1946,1950,1955,1960,1965,1970,1975,1980,1985,1990,1995,2000,2005,2010,2012], "labelExpr": "datum.value == 1946 || datum.value == 2000 ? '' + datum.value : substring('' + datum.value, 2, 4)", "labels": true, "ticks": false, "tickSize": 0, "labelPadding": 15.5, "labelBaseline": "middle", "labelFont": "Open Sans", "labelFontSize": 13, "labelColor": "#222222", "labelOverlap": false, "labelFlush": false, "domain": true, "domainColor": "#bfb3b3", "grid": false, "title": null}
            },
            "y": {"datum": 101.87, "type": "quantitative"}
          }
        },
        {
          "data": {"values": [{}]},
          "mark": {"type": "text", "text": "politically organised rebels; conflicts restarted within 10 years counted as continuous\u00a0\u00a0\u00a0\u00a0‡Including foreign intervention", "align": "right", "baseline": "middle", "font": "Open Sans", "fontSize": 11.6, "fill": "#444444"},
          "encoding": {
            "x": {
              "datum": 2013.26, "type": "quantitative",
              "axis": {"orient": "top", "values": [1946,1950,1955,1960,1965,1970,1975,1980,1985,1990,1995,2000,2005,2010,2012], "labelExpr": "datum.value == 1946 || datum.value == 2000 ? '' + datum.value : substring('' + datum.value, 2, 4)", "labels": true, "ticks": false, "tickSize": 0, "labelPadding": 15.5, "labelBaseline": "middle", "labelFont": "Open Sans", "labelFontSize": 13, "labelColor": "#222222", "labelOverlap": false, "labelFlush": false, "domain": true, "domainColor": "#bfb3b3", "grid": false, "title": null}
            },
            "y": {"datum": 103.83, "type": "quantitative"}
          }
        },
        {
          "data": {"values": [{}]},
          "mark": {"type": "text", "text": "Sources: PRIO; Uppsala University", "align": "left", "baseline": "middle", "font": "Open Sans", "fontSize": 11.6, "fill": "#444444"},
          "encoding": {
            "x": {
              "datum": 1941.98, "type": "quantitative",
              "axis": {"orient": "top", "values": [1946,1950,1955,1960,1965,1970,1975,1980,1985,1990,1995,2000,2005,2010,2012], "labelExpr": "datum.value == 1946 || datum.value == 2000 ? '' + datum.value : substring('' + datum.value, 2, 4)", "labels": true, "ticks": false, "tickSize": 0, "labelPadding": 15.5, "labelBaseline": "middle", "labelFont": "Open Sans", "labelFontSize": 13, "labelColor": "#222222", "labelOverlap": false, "labelFlush": false, "domain": true, "domainColor": "#bfb3b3", "grid": false, "title": null}
            },
            "y": {"datum": 103.9, "type": "quantitative"}
          }
        }
      ]
    }
  ]
}
